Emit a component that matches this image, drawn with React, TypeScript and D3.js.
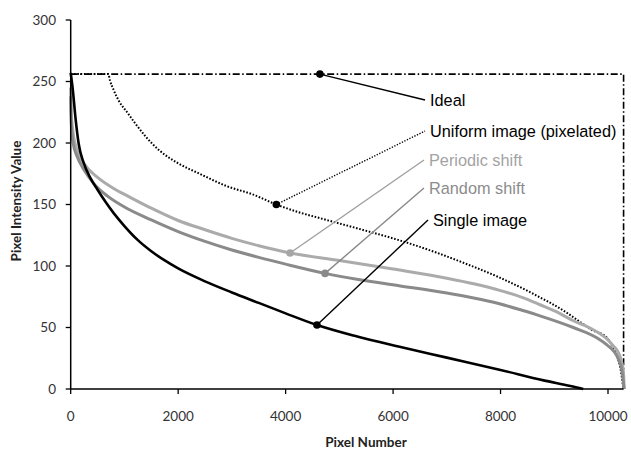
import * as d3 from 'd3';

// sorted pixel intensity curves (x = pixel number, y = intensity)
const idealX = [0, 10290, 10290];
const idealY = [256, 256, 0];

const uniformX = [0, 700, 730, 800, 900, 1050, 1200, 1400, 1650, 2000, 2400, 2900, 3400, 3827, 4260, 4630, 5300, 6111, 6800, 7346, 7963, 8580, 9198, 9400, 9700, 9975, 10100, 10190, 10250, 10278, 10290];
const uniformY = [256, 256, 251, 243, 234, 225, 216, 205, 194, 183.5, 175, 165, 158, 150, 143.5, 139, 131, 121, 111, 102, 91, 78, 63, 57, 48, 42, 33, 24, 12, 3, 0];

const periodicX = [0, 10, 40, 120, 250, 500, 800, 1100, 1500, 2000, 2500, 3000, 3500, 4083, 5000, 6000, 7000, 7500, 8000, 8400, 8734, 9100, 9354, 9600, 9815, 9975, 10100, 10200, 10260, 10290, 10300];
const periodicY = [245, 225, 210, 194, 183, 172, 163, 156, 147, 137, 129.5, 122.5, 116.5, 110.6, 104.5, 97.5, 90, 85.5, 80, 74.5, 68.5, 61.5, 55.5, 51, 46, 41, 35, 29, 21, 12, 0];

const randomX = [0, 8, 45, 120, 250, 430, 680, 1000, 1500, 2000, 2500, 3000, 3500, 4000, 4734, 5352, 6111, 7000, 7500, 7963, 8400, 8734, 9354, 9815, 9975, 10185, 10260, 10300];
const randomY = [238, 219, 200, 189, 178, 167, 157, 148, 137.5, 128, 120, 113, 107, 101.5, 94, 89, 84, 78, 74, 69.5, 64, 59.5, 50, 41, 36, 25, 15, 0];

const singleX = [0, 40, 90, 150, 240, 360, 500, 650, 800, 1000, 1250, 1500, 1750, 2000, 2500, 3000, 3500, 4000, 4584, 5300, 6100, 7000, 8000, 8800, 9300, 9540];
const singleY = [257, 243, 220, 199, 184, 172, 162, 152, 143, 132.5, 121, 112, 104.5, 98, 87.5, 78.5, 70, 61.5, 52, 43, 34.5, 25.5, 15.5, 7, 2.5, 0];

const labels = ['Ideal', 'Uniform image (pixelated)', 'Periodic shift', 'Random shift', 'Single image'];
const markerX = [4638, 3827, 4083, 4734, 4584];
const markerY = [256, 150, 110.6, 94, 52];

const xTicks = [0, 2000, 4000, 6000, 8000, 10000];
const yTicks = [0, 50, 100, 150, 200, 250, 300];

const W = 631;
const H = 450;

const x = d3.scaleLinear().domain([0, 10000]).range([70.7, 608]);
const y = d3.scaleLinear().domain([0, 300]).range([389, 20]);

const zip = (xs: number[], ys: number[]) => xs.map((v, i) => [v, ys[i]] as [number, number]);

const smooth = d3.line<[number, number]>()
  .x(d => x(d[0]))
  .y(d => y(d[1]))
  .curve(d3.curveMonotoneX);

const straight = d3.line<[number, number]>()
  .x(d => x(d[0]))
  .y(d => y(d[1]));

// label anchors (px) and styling for each annotation
const labelPos = [[425, 100], [425, 131], [424, 160], [424, 188], [428, 220]];
const labelColor = ['#000', '#000', '#a3a3a3', '#8c8c8c', '#000'];
const leaderColor = ['#000', '#000', '#a0a0a0', '#888', '#000'];
const dotColor = ['#000', '#000', '#a6a6a6', '#8a8a8a', '#000'];

export default function App() {
  const tickFont = 'Lato, "Open Sans", sans-serif';
  const xEnd = x(10290);
  return (
    <svg width={W} height={H} style={{ position: 'absolute', left: 0, top: 0, background: '#fff' }}>
      {/* series */}
      <path d={straight(zip(idealX, idealY)) || ''} fill="none" stroke="#000" strokeWidth={1.6}
        strokeDasharray="7,2.5,1.5,2.5" />
      <path d={smooth(zip(uniformX, uniformY)) || ''} fill="none" stroke="#000" strokeWidth={2}
        strokeDasharray="1.6,1.7" />
      <path d={smooth(zip(periodicX, periodicY)) || ''} fill="none" stroke="#ababab" strokeWidth={3} />
      <path d={smooth(zip(randomX, randomY)) || ''} fill="none" stroke="#8a8a8a" strokeWidth={3} />
      <path d={smooth(zip(singleX, singleY)) || ''} fill="none" stroke="#000" strokeWidth={2.6} />

      {/* axes */}
      <line x1={x(0)} x2={xEnd} y1={y(0)} y2={y(0)} stroke="#000" strokeWidth={1.5} />
      <line x1={x(0)} x2={x(0)} y1={y(0)} y2={y(300)} stroke="#000" strokeWidth={1.5} />
      {xTicks.map(t => (
        <g key={'x' + t}>
          <line x1={x(t)} x2={x(t)} y1={y(0)} y2={y(0) + 5} stroke="#000" strokeWidth={1.3} />
          <text x={x(t)} y={421} textAnchor="middle" fontSize={13.5} fill="#333" fontFamily={tickFont}>{t}</text>
        </g>
      ))}
      {yTicks.map(t => (
        <g key={'y' + t}>
          <line x1={x(0) - 5} x2={x(0)} y1={y(t)} y2={y(t)} stroke="#000" strokeWidth={1.3} />
          <text x={56} y={y(t)} dy="0.35em" textAnchor="end" fontSize={13.5} fill="#333" fontFamily={tickFont}>{t}</text>
        </g>
      ))}
      <text x={366} y={447} textAnchor="middle" fontSize={13.5} fontWeight="bold" fill="#222" fontFamily={tickFont}>Pixel Number</text>
      <text transform="translate(21,201) rotate(-90)" textAnchor="middle" fontSize={13.5} fontWeight="bold" fill="#222" fontFamily={tickFont}>Pixel Intensity Value</text>

      {/* annotations */}
      {labels.map((l, i) => (
        <g key={l}>
          <line x1={x(markerX[i])} y1={y(markerY[i])} x2={labelPos[i][0]} y2={labelPos[i][1]}
            stroke={leaderColor[i]} strokeWidth={1.4} strokeDasharray={i === 1 ? '1.3,1.5' : undefined} />
          <circle cx={x(markerX[i])} cy={y(markerY[i])} r={3.8} fill={dotColor[i]} />
          <text x={labelPos[i][0] + 5} y={labelPos[i][1] + 6} fontSize={16.3} fill={labelColor[i]}
            fontFamily='"Liberation Sans", Arial, sans-serif'>{l}</text>
        </g>
      ))}
    </svg>
  );
}
